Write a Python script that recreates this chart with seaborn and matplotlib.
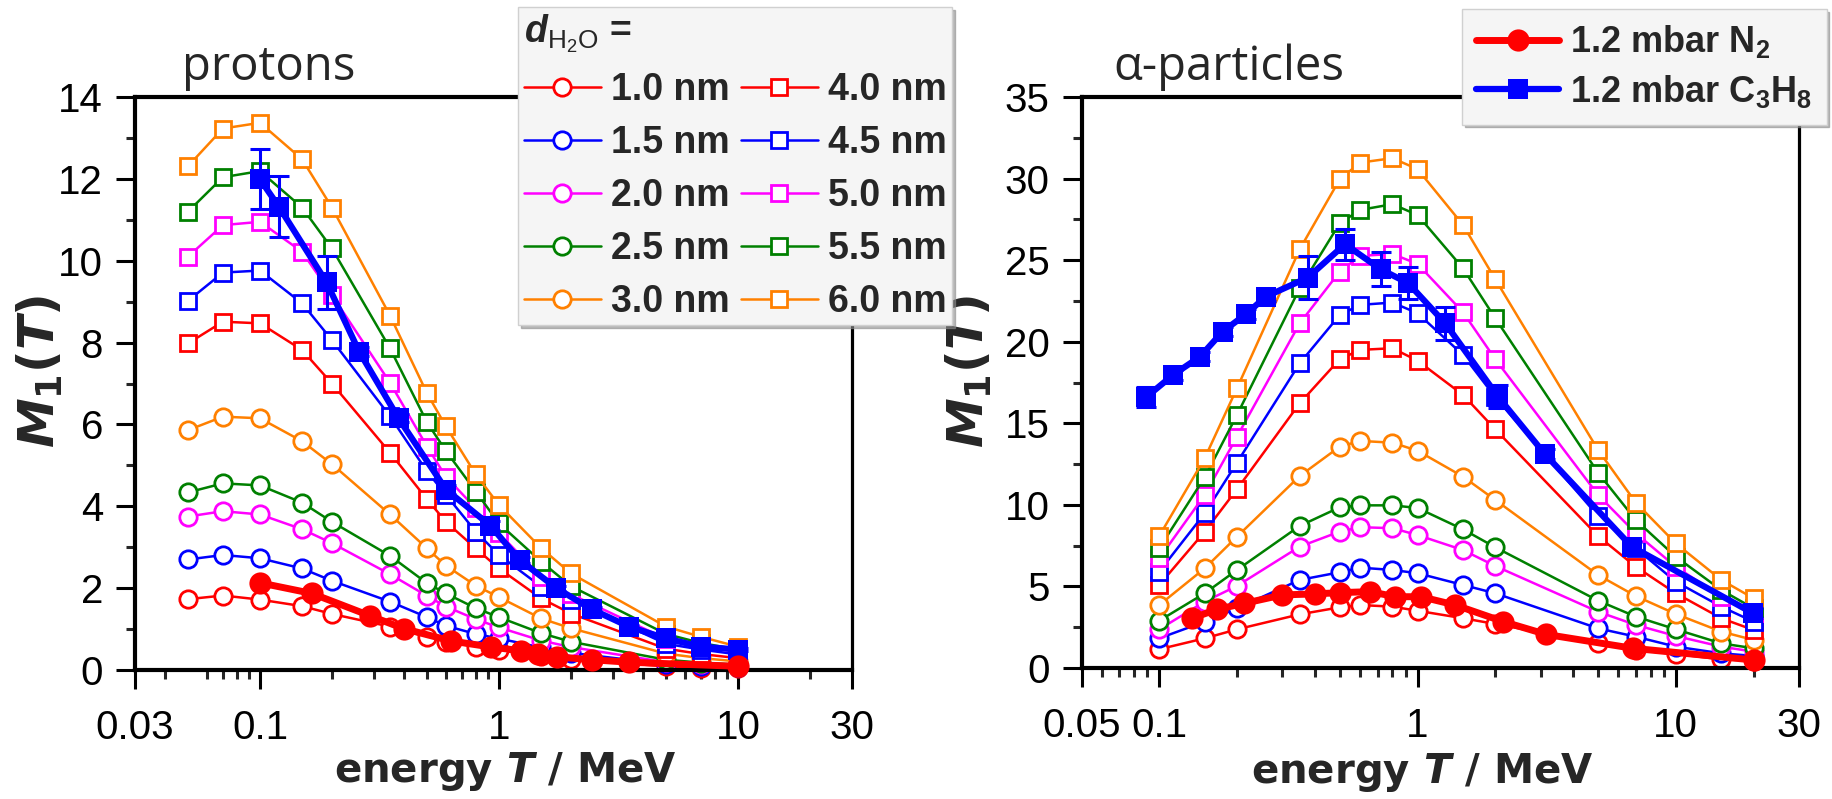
import matplotlib
matplotlib.use("Agg")
import matplotlib.pyplot as plt
import seaborn as sns
from matplotlib import font_manager as fm
from matplotlib.ticker import FixedLocator, FixedFormatter, NullFormatter

# ---- protons: simulated M1(T) for several water-layer thicknesses ----
p_energy = [0.05, 0.07, 0.1, 0.15, 0.2, 0.35, 0.5, 0.6, 0.8, 1.0, 1.5, 2.0, 5.0, 7.0, 10.0]
p_d10 = [1.73, 1.82, 1.72, 1.56, 1.37, 1.06, 0.81, 0.69, 0.57, 0.49, 0.33, 0.26, 0.09, 0.06, 0.04]
p_d15 = [2.70, 2.81, 2.73, 2.48, 2.18, 1.67, 1.29, 1.08, 0.88, 0.77, 0.55, 0.42, 0.14, 0.10, 0.07]
p_d20 = [3.75, 3.88, 3.80, 3.44, 3.10, 2.34, 1.81, 1.55, 1.24, 1.04, 0.72, 0.56, 0.19, 0.14, 0.10]
p_d25 = [4.34, 4.56, 4.51, 4.09, 3.62, 2.79, 2.12, 1.87, 1.51, 1.29, 0.90, 0.69, 0.25, 0.18, 0.13]
p_d30 = [5.86, 6.19, 6.15, 5.59, 5.03, 3.80, 2.97, 2.55, 2.06, 1.78, 1.26, 1.02, 0.40, 0.29, 0.21]
p_d40 = [7.98, 8.51, 8.47, 7.82, 7.00, 5.31, 4.17, 3.62, 2.97, 2.48, 1.75, 1.38, 0.52, 0.39, 0.29]
p_d45 = [9.02, 9.71, 9.76, 8.96, 8.06, 6.20, 4.85, 4.28, 3.38, 2.81, 2.04, 1.71, 0.64, 0.50, 0.38]
p_d50 = [10.10, 10.87, 10.95, 10.22, 9.16, 7.02, 5.46, 4.72, 3.95, 3.34, 2.28, 1.85, 0.76, 0.58, 0.44]
p_d55 = [11.20, 12.04, 12.19, 11.30, 10.30, 7.86, 6.05, 5.35, 4.36, 3.58, 2.65, 2.05, 0.88, 0.66, 0.50]
p_d60 = [12.31, 13.23, 13.37, 12.48, 11.30, 8.66, 6.76, 5.95, 4.78, 4.03, 2.98, 2.36, 1.06, 0.81, 0.57]

# protons: measured
p_n2_x = [0.1, 0.165, 0.29, 0.40, 0.63, 0.93, 1.24, 1.46, 1.75, 2.45, 3.5, 10.0]
p_n2_y = [2.13, 1.87, 1.32, 1.01, 0.71, 0.56, 0.47, 0.40, 0.32, 0.25, 0.19, 0.09]
p_c3_x = [0.1, 0.12, 0.19, 0.26, 0.38, 0.6, 0.92, 1.22, 1.74, 2.45, 3.5, 5.0, 7.0, 10.0]
p_c3_y = [11.99, 11.32, 9.47, 7.78, 6.15, 4.41, 3.53, 2.69, 2.00, 1.48, 1.06, 0.77, 0.57, 0.50]
p_c3_err = [0.73, 0.74, 0.65, 0.12, 0.1, 0.1, 0.1, 0.08, 0.06, 0.05, 0.04, 0.03, 0.03, 0.03]

# ---- alpha particles: simulated ----
a_energy = [0.1, 0.15, 0.2, 0.35, 0.5, 0.6, 0.8, 1.0, 1.5, 2.0, 5.0, 7.0, 10.0, 15.0, 20.0]
a_d10 = [1.15, 1.82, 2.37, 3.29, 3.72, 3.86, 3.76, 3.51, 3.05, 2.70, 1.51, 1.10, 0.86, 0.53, 0.45]
a_d15 = [1.82, 2.84, 3.66, 5.40, 5.87, 6.15, 6.01, 5.81, 5.09, 4.58, 2.43, 1.92, 1.31, 0.90, 0.74]
a_d20 = [2.37, 4.07, 5.03, 7.44, 8.36, 8.63, 8.57, 8.15, 7.23, 6.25, 3.45, 2.64, 1.96, 1.31, 1.00]
a_d25 = [2.90, 4.58, 6.01, 8.71, 9.85, 9.97, 9.97, 9.81, 8.50, 7.40, 4.13, 3.15, 2.37, 1.51, 1.21]
a_d30 = [3.86, 6.11, 8.05, 11.77, 13.57, 13.92, 13.81, 13.32, 11.73, 10.30, 5.70, 4.41, 3.31, 2.23, 1.72]
a_d40 = [5.09, 8.36, 10.96, 16.23, 18.93, 19.50, 19.60, 18.84, 16.74, 14.63, 8.09, 6.21, 4.58, 3.05, 2.33]
a_d45 = [5.91, 9.48, 12.59, 18.68, 21.64, 22.26, 22.40, 21.75, 19.19, 16.60, 9.32, 7.34, 5.29, 3.76, 2.84]
a_d50 = [6.72, 10.61, 14.18, 21.13, 24.30, 25.26, 25.38, 24.77, 21.81, 18.93, 10.61, 8.26, 6.21, 4.37, 3.35]
a_d55 = [7.34, 11.69, 15.51, 23.28, 27.26, 28.08, 28.43, 27.77, 24.50, 21.44, 11.97, 9.07, 6.82, 4.78, 3.66]
a_d60 = [8.09, 12.86, 17.15, 25.67, 29.96, 30.98, 31.25, 30.58, 27.16, 23.83, 13.37, 10.14, 7.64, 5.40, 4.27]

# alpha particles: measured
a_n2_x = [0.134, 0.167, 0.213, 0.30, 0.40, 0.50, 0.655, 0.82, 1.03, 1.40, 2.15, 3.15, 6.8, 20.0]
a_n2_y = [3.05, 3.59, 3.96, 4.48, 4.54, 4.62, 4.68, 4.37, 4.37, 3.86, 2.84, 2.06, 1.21, 0.49]
a_c3_x = [0.089, 0.113, 0.144, 0.176, 0.217, 0.259, 0.376, 0.524, 0.72, 0.92, 1.28, 2.05, 3.11, 6.75, 19.95]
a_c3_y = [16.6, 17.96, 19.09, 20.62, 21.70, 22.77, 23.93, 25.98, 24.44, 23.59, 21.13, 16.63, 13.12, 7.44, 3.35]
a_c3_err = [0.6, 0.3, 0.3, 0.3, 0.3, 0.3, 1.3, 0.95, 1.03, 1.0, 1.0, 0.72, 0.3, 0.3, 0.3]

thick_labels = ["1.0 nm", "1.5 nm", "2.0 nm", "2.5 nm", "3.0 nm",
                "4.0 nm", "4.5 nm", "5.0 nm", "5.5 nm", "6.0 nm"]
colors = ["#ff0000", "#0000ff", "#ff00ff", "#008000", "#ff8000"] * 2
markers = ["o"] * 5 + ["s"] * 5
p_sims = [p_d10, p_d15, p_d20, p_d25, p_d30, p_d40, p_d45, p_d50, p_d55, p_d60]
a_sims = [a_d10, a_d15, a_d20, a_d25, a_d30, a_d40, a_d45, a_d50, a_d55, a_d60]

sns.set_theme(style="ticks")
installed = {f.name for f in fm.fontManager.ttflist}
def pick(*names):
    for n in names:
        if n in installed:
            return n
    return "DejaVu Sans"
ARIAL = pick("Liberation Sans", "Arimo")
NARROW = pick("Liberation Sans Narrow", "Arial Narrow", "Liberation Sans")
BOLDLAB = "DejaVu Sans"
TITLEF = pick("Open Sans", "Noto Sans")
tick_size = 30 if NARROW != ARIAL else 29

plt.rcParams.update({
    "font.family": [NARROW, "DejaVu Sans"],
    "mathtext.fontset": "custom",
    "mathtext.rm": f"{ARIAL}:bold",
    "mathtext.bf": f"{ARIAL}:bold",
    "mathtext.cal": f"{ARIAL}:italic:bold",
    "mathtext.tt": f"{ARIAL}",
    "mathtext.it": f"{BOLDLAB}:italic:bold",
    "mathtext.sf": f"{BOLDLAB}:bold",
})

W, H = 1833, 799
fig = plt.figure(figsize=(W / 100, H / 100), dpi=100)
axL = fig.add_axes([135 / W, 1 - 670 / H, 717 / W, 573 / H])
axR = fig.add_axes([1081.5 / W, 1 - 668 / H, 717.5 / W, 571 / H])
for ax in (axL, axR):
    ax.set_xscale("log")


def draw_sims(ax, x, sims, with_label):
    for y, c, m, lab in zip(sims, colors, markers, thick_labels):
        sns.lineplot(x=x, y=y, ax=ax, color=c, marker=m,
                     markersize=12.5 if m == "o" else 12,
                     markerfacecolor="white", markeredgecolor=c, markeredgewidth=2,
                     linewidth=1.8, estimator=None, sort=False, errorbar=None,
                     legend=False, clip_on=False, zorder=2,
                     label=lab if with_label else None)


def draw_meas(ax, n2x, n2y, c3x, c3y, c3e, with_label):
    sns.lineplot(x=c3x, y=c3y, ax=ax, color="#0000ff", marker="s", markersize=15,
                 markeredgecolor="#0000ff", markeredgewidth=0, linewidth=4.5,
                 estimator=None, sort=False, errorbar=None, legend=False,
                 clip_on=False, zorder=4,
                 label="1.2 mbar C$_3$H$_8$" if with_label else None)
    ax.errorbar(c3x, c3y, yerr=c3e, fmt="none", ecolor="#0000ff", elinewidth=2.2,
                capsize=7, capthick=2.2, zorder=4, clip_on=False)
    sns.lineplot(x=n2x, y=n2y, ax=ax, color="#ff0000", marker="o", markersize=16,
                 markeredgecolor="#ff0000", markeredgewidth=0, linewidth=5,
                 estimator=None, sort=False, errorbar=None, legend=False,
                 clip_on=False, zorder=5,
                 label="1.2 mbar N$_2$" if with_label else None)


draw_sims(axL, p_energy, p_sims, True)
draw_meas(axL, p_n2_x, p_n2_y, p_c3_x, p_c3_y, p_c3_err, False)
draw_sims(axR, a_energy, a_sims, False)
draw_meas(axR, a_n2_x, a_n2_y, a_c3_x, a_c3_y, a_c3_err, True)


def decade_minors(lo, hi):
    out = []
    base = 0.01
    while base < hi:
        for k in range(2, 10):
            v = k * base
            if lo < v < hi and round(v, 6) not in (0.03, 0.05):
                out.append(v)
        base *= 10
    return out


def style(ax, xlim, xmajor, xlabels, ylim, ymajor, yminor):
    ax.set_xlim(*xlim)
    ax.set_ylim(*ylim)
    ax.xaxis.set_major_locator(FixedLocator(xmajor))
    ax.xaxis.set_major_formatter(FixedFormatter(xlabels))
    ax.xaxis.set_minor_locator(FixedLocator(decade_minors(*xlim)))
    ax.xaxis.set_minor_formatter(NullFormatter())
    ax.yaxis.set_major_locator(FixedLocator(ymajor))
    ax.yaxis.set_minor_locator(FixedLocator(yminor))
    ax.yaxis.set_major_formatter(FixedFormatter([f"{v:g}" for v in ymajor]))
    ax.tick_params(which="major", direction="out", length=14, width=2.2,
                   labelsize=tick_size, colors="black", top=False, right=False)
    ax.tick_params(which="minor", direction="out", length=6.5, width=2.2,
                   top=False, right=False)
    ax.tick_params(axis="x", which="major", pad=14)
    ax.tick_params(axis="y", which="major", pad=9)
    for side in ("left", "bottom", "top"):
        ax.spines[side].set_linewidth(3)
    ax.spines["right"].set_linewidth(2.3)
    for sp in ax.spines.values():
        sp.set_color("black")
    ax.set_xlabel(r"energy $\mathit{T}$ / MeV", fontfamily=BOLDLAB,
                  fontweight="bold", fontsize=29)
    ax.set_ylabel(r"$\mathit{M}_{\mathsf{1}}\mathsf{(}\mathit{T}\mathsf{)}$",
                  fontfamily=BOLDLAB, fontsize=36)


style(axL, (0.03, 30), [0.03, 0.1, 1, 10, 30], ["0.03", "0.1", "1", "10", "30"],
      (0, 14), list(range(0, 15, 2)), list(range(1, 14, 2)))
style(axR, (0.05, 30), [0.05, 0.1, 1, 10, 30], ["0.05", "0.1", "1", "10", "30"],
      (0, 35), list(range(0, 36, 5)), [2.5 + 5 * k for k in range(7)])

axL.xaxis.set_label_coords(0.516, -0.14)
axR.xaxis.set_label_coords(0.475, -0.145)
axL.yaxis.set_label_coords(-0.098, 0.52)
axR.yaxis.set_label_coords(-0.122, 0.52)

axL.text(0.066, 1.03, "protons", transform=axL.transAxes, fontfamily=TITLEF,
         fontsize=34, va="baseline", ha="left")
axR.text(0.045, 1.03, "\u03b1-particles", transform=axR.transAxes, fontfamily=TITLEF,
         fontsize=34, va="baseline", ha="left")

frame_kw = dict(frameon=True, fancybox=False, facecolor="#f5f5f5", edgecolor="#d0d0d0",
                framealpha=1, shadow={"color": "0.55", "alpha": 0.6}, borderaxespad=0)

h1, l1 = axL.get_legend_handles_labels()
leg1 = fig.legend(h1, l1, loc="upper left", bbox_to_anchor=(518 / W, 1 - 7 / H), ncol=2,
                  title=r"$\mathcal{d}_{\mathtt{H_2O}}$ =", alignment="left",
                  prop={"family": ARIAL, "weight": "bold", "size": 27},
                  title_fontproperties={"family": ARIAL, "weight": "bold", "size": 27},
                  handlelength=2.05, handletextpad=0.27, columnspacing=0.3,
                  labelspacing=0.45, borderpad=0.15, **frame_kw)

h2, l2 = axR.get_legend_handles_labels()
order = [l2.index("1.2 mbar N$_2$"), l2.index("1.2 mbar C$_3$H$_8$")]
leg2 = fig.legend([h2[i] for i in order], [l2[i] for i in order], loc="upper left",
                  bbox_to_anchor=(1462 / W, 1 - 9 / H),
                  prop={"family": ARIAL, "weight": "bold", "size": 26},
                  handlelength=2.3, handletextpad=0.3, labelspacing=0.35,
                  borderpad=0.4, **frame_kw)

fig.savefig("out.png", dpi=100)
